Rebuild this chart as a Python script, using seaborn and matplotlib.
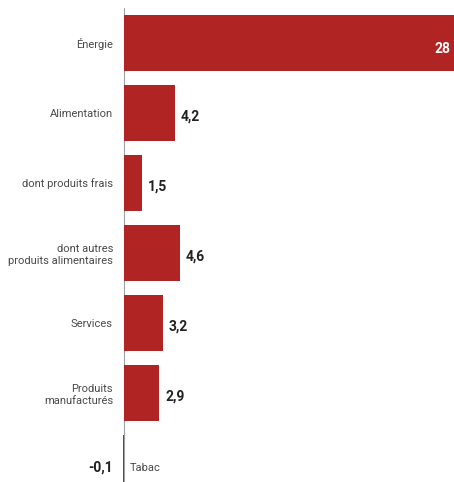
import matplotlib
matplotlib.use("Agg")
import matplotlib.pyplot as plt
import matplotlib.transforms as mtransforms
import seaborn as sns
import pandas as pd

categories = ["Énergie", "Alimentation", "dont produits frais",
              "dont autres\nproduits alimentaires", "Services",
              "Produits\nmanufacturés", "Tabac"]
values = [28, 4.2, 1.5, 4.6, 3.2, 2.9, -0.1]
value_labels = ["28", "4,2", "1,5", "4,6", "3,2", "2,9", "-0,1"]

sns.set_style("white")
plt.rcParams["font.family"] = ["Roboto", "DejaVu Sans"]

df = pd.DataFrame({"cat": categories, "val": values})

W, H = 454, 482
px_per_unit = 330 / 27.3
xmin = -0.25
left_px = 124 + xmin * px_per_unit
fig = plt.figure(figsize=(W / 100, H / 100), dpi=100)
ax = fig.add_axes([left_px / W, 0, 1 - left_px / W, 1 - 8 / H])

bar_color = "#b02424"
sns.barplot(data=df, x="val", y="cat", orient="h", color=bar_color,
            width=0.8, ax=ax, saturation=1, linewidth=0, zorder=3)

ax.set_xlim(xmin, 27.3)
ax.set_ylim(6.27, -0.5)
ax.set_xlabel("")
ax.set_ylabel("")
ax.set_xticks([])

for s in ["top", "right", "bottom", "left"]:
    ax.spines[s].set_visible(False)
ax.axvline(0, color="#a0a0a0", linewidth=0.8, zorder=1)

ticklabels = [c if c != "Tabac" else "" for c in categories]
ax.set_yticks(range(len(categories)))
ax.set_yticklabels(ticklabels, fontsize=8, color="#4a4a4a",
                   multialignment="right")
ax.tick_params(axis="y", length=0, pad=5.8)

trans_ax = mtransforms.blended_transform_factory(ax.transAxes, ax.transData)
for i, (v, lab) in enumerate(zip(values, value_labels)):
    if v >= 20:
        ax.text(0.99, i + 0.08, lab, transform=trans_ax, ha="right",
                va="center", color="white", fontsize=10, fontweight="semibold")
    elif v < 0:
        off = mtransforms.offset_copy(ax.transData, fig=fig, x=-11, y=0, units="dots")
        ax.text(0, i + 0.07, lab, transform=off, ha="right", va="center",
                color="#222222", fontsize=10, fontweight="semibold")
        off2 = mtransforms.offset_copy(ax.transData, fig=fig, x=6, y=0, units="dots")
        ax.text(0, i + 0.07, categories[i], transform=off2, ha="left",
                va="center", color="#4a4a4a", fontsize=8)
    else:
        off = mtransforms.offset_copy(ax.transData, fig=fig, x=6, y=0, units="dots")
        ax.text(v, i + 0.05, lab, transform=off, ha="left", va="center",
                color="#222222", fontsize=10, fontweight="semibold")

fig.savefig("out.png", dpi=100)
